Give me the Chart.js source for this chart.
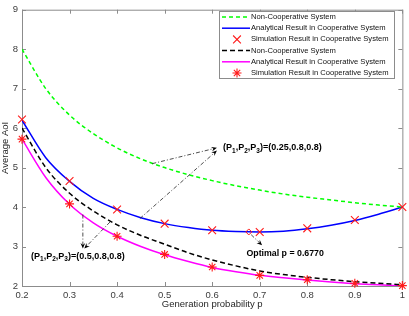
<!DOCTYPE html>
<html>
<head>
<meta charset="utf-8">
<script src="https://cdn.jsdelivr.net/npm/chart.js@4.4.0/dist/chart.umd.min.js"></script>
<style>
  html, body { margin: 0; padding: 0; background: #fff; }
</style>
</head>
<body>
<canvas id="myChart" width="409" height="316"></canvas>
<script>
// curves sampled along p
const pCurve = [0.2, 0.25, 0.3, 0.35, 0.4, 0.45, 0.5, 0.55, 0.6, 0.65, 0.7, 0.75, 0.8, 0.85, 0.9, 0.95, 1.0];
const nonCoopA = [8.0, 7.0, 6.33, 5.86, 5.5, 5.22, 5.0, 4.82, 4.67, 4.54, 4.43, 4.33, 4.25, 4.18, 4.11, 4.05, 4.0];
const analyticA = [6.2, 5.25, 4.65, 4.22, 3.94, 3.73, 3.58, 3.48, 3.41, 3.38, 3.37, 3.39, 3.45, 3.54, 3.66, 3.82, 4.0];
const nonCoopB = [6.0, 5.0, 4.35, 3.9, 3.55, 3.28, 3.06, 2.84, 2.66, 2.51, 2.38, 2.29, 2.22, 2.16, 2.11, 2.07, 2.03];
const analyticB = [5.72, 4.75, 4.07, 3.6, 3.26, 3.0, 2.79, 2.62, 2.47, 2.36, 2.27, 2.21, 2.15, 2.1, 2.06, 2.03, 2.0];

// simulation points
const pSim = [0.2, 0.3, 0.4, 0.5, 0.6, 0.7, 0.8, 0.9, 1.0];
const simA = [6.22, 4.66, 3.94, 3.58, 3.41, 3.37, 3.46, 3.67, 4.0];
const simB = [5.72, 4.08, 3.26, 2.8, 2.48, 2.27, 2.16, 2.07, 2.01];

const pOptimal = 0.677;
const aoiOptimal = 3.37;

const xTicks = [0.2, 0.3, 0.4, 0.5, 0.6, 0.7, 0.8, 0.9, 1];
const yTicks = [2, 3, 4, 5, 6, 7, 8, 9];

const FONT = "Arial, 'Liberation Sans', Helvetica, sans-serif";
const AXIS_COLOR = '#8c8c8c';

function pts(xs, ys) {
    return xs.map(function (x, i) { return { x: x, y: ys[i] }; });
}

// frame with inward ticks on all four sides
const framePlugin = {
    id: 'frame',
    beforeDatasetsDraw: function (chart) {
        const ctx = chart.ctx;
        const a = chart.chartArea;
        const xs = chart.scales.x, ys = chart.scales.y;
        ctx.save();
        ctx.strokeStyle = AXIS_COLOR;
        ctx.lineWidth = 1;
        ctx.strokeRect(a.left + 0.5, a.top + 0.5, a.right - a.left, a.bottom - a.top);
        ctx.beginPath();
        xTicks.forEach(function (t) {
            const px = Math.round(xs.getPixelForValue(t)) + 0.5;
            ctx.moveTo(px, a.bottom); ctx.lineTo(px, a.bottom - 4);
            ctx.moveTo(px, a.top); ctx.lineTo(px, a.top + 4);
        });
        yTicks.forEach(function (t) {
            const py = Math.round(ys.getPixelForValue(t)) + 0.5;
            ctx.moveTo(a.left, py); ctx.lineTo(a.left + 4, py);
            ctx.moveTo(a.right, py); ctx.lineTo(a.right - 4, py);
        });
        ctx.stroke();
        ctx.restore();
    }
};

function arrow(ctx, x1, y1, x2, y2) {
    ctx.save();
    ctx.strokeStyle = '#222';
    ctx.fillStyle = '#000';
    ctx.lineWidth = 0.8;
    ctx.setLineDash([4, 2, 1, 2]);
    const ang = Math.atan2(y2 - y1, x2 - x1);
    const len = 6;
    ctx.beginPath();
    ctx.moveTo(x1, y1);
    ctx.lineTo(x2 - Math.cos(ang) * len * 0.6, y2 - Math.sin(ang) * len * 0.6);
    ctx.stroke();
    ctx.setLineDash([]);
    ctx.beginPath();
    ctx.moveTo(x2, y2);
    ctx.lineTo(x2 - Math.cos(ang - 0.4) * len, y2 - Math.sin(ang - 0.4) * len);
    ctx.lineTo(x2 - Math.cos(ang) * len * 0.6, y2 - Math.sin(ang) * len * 0.6);
    ctx.lineTo(x2 - Math.cos(ang + 0.4) * len, y2 - Math.sin(ang + 0.4) * len);
    ctx.closePath();
    ctx.fill();
    ctx.restore();
}

function subText(ctx, x, y, parts) {
    // parts: [text, isSub]
    parts.forEach(function (p) {
        if (p[1]) {
            ctx.font = 'bold 6.5px ' + FONT;
            ctx.fillText(p[0], x, y + 3);
        } else {
            ctx.font = 'bold 9px ' + FONT;
            ctx.fillText(p[0], x, y);
        }
        x += ctx.measureText(p[0]).width;
    });
}

const annotePlugin = {
    id: 'annote',
    afterDatasetsDraw: function (chart) {
        const ctx = chart.ctx;
        const xs = chart.scales.x, ys = chart.scales.y;
        const X = function (v) { return xs.getPixelForValue(v); };
        const Y = function (v) { return ys.getPixelForValue(v); };
        ctx.save();
        arrow(ctx, X(0.474), Y(5.10), X(0.61), Y(5.5));
        arrow(ctx, X(0.448), Y(3.71), X(0.61), Y(5.43));
        arrow(ctx, X(0.328), Y(3.81), X(0.328), Y(2.95));
        arrow(ctx, X(0.385), Y(3.62), X(0.331), Y(2.95));
        arrow(ctx, X(0.682), Y(3.30), X(0.705), Y(3.03));

        ctx.fillStyle = '#000';
        ctx.textBaseline = 'middle';
        ctx.textAlign = 'left';
        subText(ctx, X(0.623), Y(5.5), [['(P', 0], ['1', 1], [',P', 0], ['2', 1], [',P', 0], ['3', 1], [')=(0.25,0.8,0.8)', 0]]);
        subText(ctx, X(0.219), Y(2.75), [['(P', 0], ['1', 1], [',P', 0], ['2', 1], [',P', 0], ['3', 1], [')=(0.5,0.8,0.8)', 0]]);
        ctx.font = 'bold 8.8px ' + FONT;
        ctx.fillText('Optimal p = 0.6770', X(0.672), Y(2.82));
        ctx.restore();
    }
};

const legendPlugin = {
    id: 'boxLegend',
    afterDraw: function (chart) {
        const ctx = chart.ctx;
        const left = 219, top = 11, w = 175, h = 67;
        ctx.save();
        ctx.fillStyle = '#fff';
        ctx.fillRect(left, top, w, h);
        ctx.strokeStyle = AXIS_COLOR;
        ctx.lineWidth = 1;
        ctx.strokeRect(left + 0.5, top + 0.5, w, h);
        ctx.font = '7.6px ' + FONT;
        ctx.textBaseline = 'middle';
        chart.data.datasets.forEach(function (ds, i) {
            const y = top + 6 + i * 11.2;
            if (ds.showLine) {
                ctx.strokeStyle = ds.borderColor;
                ctx.lineWidth = ds.borderWidth;
                ctx.setLineDash(ds.borderDash || []);
                ctx.beginPath();
                ctx.moveTo(left + 3, y);
                ctx.lineTo(left + 31, y);
                ctx.stroke();
                ctx.setLineDash([]);
            } else {
                ctx.strokeStyle = ds.pointBorderColor;
                ctx.fillStyle = ds.pointBorderColor;
                ctx.lineWidth = ds.pointBorderWidth;
                Chart.helpers.drawPoint(ctx, {
                    pointStyle: ds.pointStyle, radius: ds.pointRadius,
                    rotation: 0, borderWidth: ds.pointBorderWidth
                }, left + 18, y);
            }
            ctx.fillStyle = '#111';
            ctx.fillText(ds.label, left + 32, y);
        });
        ctx.restore();
    }
};

const lineDefaults = { showLine: true, pointRadius: 0, fill: false, cubicInterpolationMode: 'monotone', borderWidth: 1.5, order: 2 };
const markDefaults = { showLine: false, fill: false, order: 0, clip: false, pointBackgroundColor: 'rgba(0,0,0,0)', pointBorderColor: '#ff1a1a', pointBorderWidth: 1.1 };

const ctx = document.getElementById('myChart');

const myChart = new Chart(ctx, {
    type: 'line',
    data: {
        datasets: [
            Object.assign({}, lineDefaults, {
                label: 'Non-Cooperative System',
                data: pts(pCurve, nonCoopA),
                borderColor: '#00ff00',
                borderDash: [4, 3]
            }),
            Object.assign({}, lineDefaults, {
                label: 'Analytical Result in Cooperative System',
                data: pts(pCurve, analyticA),
                borderColor: '#0000ff'
            }),
            Object.assign({}, markDefaults, {
                label: 'Simulation Result in Cooperative System',
                data: pts(pSim, simA),
                pointStyle: 'crossRot',
                pointRadius: 5.5
            }),
            Object.assign({}, lineDefaults, {
                label: 'Non-Cooperative System',
                data: pts(pCurve, nonCoopB),
                borderColor: '#000000',
                borderDash: [5, 3]
            }),
            Object.assign({}, lineDefaults, {
                label: 'Analytical Result in Cooperative System',
                data: pts(pCurve, analyticB),
                borderColor: '#ff00ff'
            }),
            Object.assign({}, markDefaults, {
                label: 'Simulation Result in Cooperative System',
                data: pts(pSim, simB),
                pointStyle: 'star',
                pointRadius: 4.5
            }),
            {
                label: 'optimal',
                data: [{ x: pOptimal, y: aoiOptimal }],
                showLine: false,
                pointStyle: 'rectRot',
                pointRadius: 3,
                pointBorderColor: '#ff1a1a',
                pointBackgroundColor: 'rgba(0,0,0,0)',
                pointBorderWidth: 1,
                order: 0,
                legendSkip: true
            }
        ]
    },
    options: {
        responsive: false,
        animation: false,
        devicePixelRatio: 1,
        layout: { padding: { top: 4, right: 6, left: 0, bottom: 0 } },
        plugins: { legend: { display: false }, tooltip: { enabled: false } },
        scales: {
            x: {
                type: 'linear',
                min: 0.2, max: 1,
                afterFit: function (s) { s.height = 30; },
                afterBuildTicks: function (s) { s.ticks = xTicks.map(function (v) { return { value: v }; }); },
                grid: { display: false, drawTicks: false },
                border: { display: false },
                ticks: {
                    padding: 4, color: '#3c3c3c', maxRotation: 0, autoSkip: false,
                    font: { family: FONT, size: 9.5 },
                    callback: function (v) { return String(Number(v.toFixed(1))); }
                },
                title: {
                    display: true, text: 'Generation probability p', color: '#262626',
                    font: { family: FONT, size: 9.5 }, padding: { top: 0, bottom: 6 }
                }
            },
            y: {
                min: 2, max: 9,
                afterFit: function (s) { s.width = 22; },
                afterBuildTicks: function (s) { s.ticks = yTicks.map(function (v) { return { value: v }; }); },
                grid: { display: false, drawTicks: false },
                border: { display: false },
                ticks: {
                    padding: 4, color: '#3c3c3c', autoSkip: false,
                    font: { family: FONT, size: 9.5 }
                },
                title: {
                    display: true, text: 'Average AoI', color: '#262626',
                    font: { family: FONT, size: 9.5 }, padding: { top: 0, bottom: 0 }
                }
            }
        }
    },
    plugins: [framePlugin, annotePlugin, {
        id: 'legendWrap',
        afterDraw: function (chart) {
            const saved = chart.data.datasets;
            chart.data.datasets = saved.filter(function (d) { return !d.legendSkip; });
            legendPlugin.afterDraw(chart);
            chart.data.datasets = saved;
        }
    }]
});
</script>
</body>
</html>
